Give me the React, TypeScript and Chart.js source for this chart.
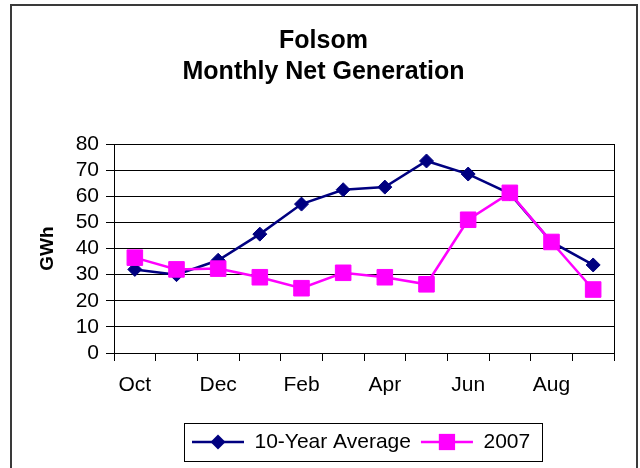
import React, { useEffect, useRef } from "react";
import { Chart, registerables } from "chart.js";

Chart.register(...registerables);

const months = ["Oct", "Nov", "Dec", "Jan", "Feb", "Mar", "Apr", "May", "Jun", "Jul", "Aug", "Sep"];
const tenYearAverage = [32, 30, 35.5, 45.5, 57, 62.5, 63.5, 73.5, 68.5, 61, 42.5, 33.7];
const year2007 = [36.5, 32, 32.3, 29, 24.8, 30.7, 29, 26.3, 51, 61.3, 42.5, 24.3];
const seriesNames = ["10-Year Average", "2007"];
const seriesColors = ["#000080", "#FF00FF"];
const titleLines = ["Folsom", "Monthly Net Generation"];
const yAxisTitle = "GWh";
const yMin = 0;
const yMax = 80;
const yStep = 10;

const FONT = "'Liberation Sans', Arial, sans-serif";

function drawMarker(ctx: CanvasRenderingContext2D, style: string, x: number, y: number, r: number, color: string) {
  ctx.save();
  ctx.fillStyle = color;
  ctx.beginPath();
  if (style === "rectRot") {
    ctx.moveTo(x - r, y);
    ctx.lineTo(x, y - r);
    ctx.lineTo(x + r, y);
    ctx.lineTo(x, y + r);
    ctx.closePath();
  } else {
    const s = r * Math.SQRT1_2;
    ctx.rect(x - s, y - s, 2 * s, 2 * s);
  }
  ctx.fill();
  ctx.restore();
}

const framePlugin = {
  id: "framePlugin",
  afterLayout(chart: any) {
    const lg = chart.legend;
    if (lg) {
      const h = lg.height;
      lg.left = 182;
      lg.top = 421.5;
      lg.bottom = lg.top + h;
      lg.right = 637;
    }
  },
  afterDraw(chart: any) {
    const ctx: CanvasRenderingContext2D = chart.ctx;
    ctx.save();
    // outer frame
    ctx.strokeStyle = "#3a3a3a";
    ctx.lineWidth = 2;
    ctx.beginPath();
    ctx.moveTo(11, 468);
    ctx.lineTo(11, 5);
    ctx.lineTo(637, 5);
    ctx.lineTo(637, 468);
    ctx.stroke();

    // legend symbols + box
    const lg = chart.legend;
    if (lg && lg.legendHitBoxes && lg.legendHitBoxes.length) {
      const boxes = lg.legendHitBoxes;
      const bw = lg.options.labels.boxWidth;
      const styles = ["rectRot", "rect"];
      const radii = [7.5, 11.5];
      boxes.forEach((hb: any, i: number) => {
        const cy = hb.top + hb.height / 2;
        ctx.strokeStyle = seriesColors[i];
        ctx.lineWidth = 2.5;
        ctx.beginPath();
        ctx.moveTo(hb.left, cy);
        ctx.lineTo(hb.left + bw, cy);
        ctx.stroke();
        drawMarker(ctx, styles[i], hb.left + bw / 2, cy, radii[i], seriesColors[i]);
      });
      const first = boxes[0];
      const last = boxes[boxes.length - 1];
      const cy = first.top + first.height / 2;
      const x0 = Math.round(first.left - 8) + 0.5;
      const x1 = Math.round(last.left + last.width + 12) + 0.5;
      const y0 = Math.round(cy - 19) + 0.5;
      const y1 = Math.round(cy + 19) + 0.5;
      ctx.strokeStyle = "#000";
      ctx.lineWidth = 1;
      ctx.strokeRect(x0, y0, x1 - x0, y1 - y0);
    }
    ctx.restore();
  },
};

export default function App() {
  const canvasRef = useRef<HTMLCanvasElement | null>(null);

  useEffect(() => {
    document.body.style.margin = "0";
    const canvas = canvasRef.current;
    if (!canvas) return;
    const chart = new Chart(canvas, {
      type: "line",
      data: {
        labels: months,
        datasets: [
          {
            label: seriesNames[0],
            data: tenYearAverage,
            borderColor: seriesColors[0],
            backgroundColor: seriesColors[0],
            pointBackgroundColor: seriesColors[0],
            pointBorderColor: seriesColors[0],
            borderWidth: 2.5,
            pointStyle: "rectRot",
            pointRadius: 7,
            pointBorderWidth: 1,
            tension: 0,
            order: 1,
          },
          {
            label: seriesNames[1],
            data: year2007,
            borderColor: seriesColors[1],
            backgroundColor: seriesColors[1],
            pointBackgroundColor: seriesColors[1],
            pointBorderColor: seriesColors[1],
            borderWidth: 2.5,
            pointStyle: "rect",
            pointRadius: 11,
            pointBorderWidth: 1,
            tension: 0,
            order: 0,
          },
        ],
      },
      options: {
        responsive: false,
        animation: false,
        layout: { padding: { left: 10, right: 3, top: 0, bottom: 0 } },
        plugins: {
          tooltip: { enabled: false },
          title: {
            display: true,
            text: titleLines,
            color: "#000",
            font: { family: FONT, size: 25, weight: "bold", lineHeight: 1.25 },
            padding: { top: 25, bottom: 56.5 },
          },
          legend: {
            display: true,
            position: "bottom",
            align: "start",
            labels: {
              color: "#000",
              font: { family: FONT, size: 21 },
              boxWidth: 52,
              boxHeight: 16,
              padding: 10,
              generateLabels: (c: any) =>
                c.data.datasets.map((ds: any, i: number) => ({
                  text: ds.label,
                  fillStyle: "rgba(0,0,0,0)",
                  strokeStyle: "rgba(0,0,0,0)",
                  lineWidth: 0,
                  hidden: false,
                  datasetIndex: i,
                  fontColor: "#000",
                })),
            },
          },
        },
        scales: {
          x: {
            type: "category",
            offset: true,
            grid: {
              display: true,
              offset: true,
              drawOnChartArea: false,
              drawTicks: true,
              tickLength: 8,
              color: "#000",
              tickColor: "#000",
            },
            border: { display: true, color: "#000", width: 1 },
            ticks: {
              autoSkip: false,
              maxRotation: 0,
              minRotation: 0,
              padding: 12,
              color: "#000",
              font: { family: FONT, size: 21 },
              callback: function (this: any, value: any, index: number) {
                return index % 2 === 0 ? this.getLabelForValue(value) : "";
              },
            },
            afterFit: (scale: any) => {
              scale.height = 74;
            },
          },
          y: {
            type: "linear",
            position: "left",
            min: yMin,
            max: yMax,
            grid: {
              display: true,
              drawOnChartArea: true,
              drawTicks: true,
              tickLength: 8,
              color: "#000",
              tickColor: "#000",
              lineWidth: 1,
            },
            border: { display: true, color: "#000", width: 1 },
            ticks: {
              stepSize: yStep,
              autoSkip: false,
              padding: 7,
              color: "#000",
              font: { family: FONT, size: 21 },
            },
            title: {
              display: true,
              text: yAxisTitle,
              color: "#000",
              font: { family: FONT, size: 19, weight: "bold" },
              padding: { top: 26, bottom: 0 },
            },
            afterFit: (scale: any) => {
              scale.width = 104;
            },
          },
          y2: {
            type: "linear",
            position: "right",
            display: true,
            min: yMin,
            max: yMax,
            grid: { display: false, drawOnChartArea: false, drawTicks: false },
            border: { display: true, color: "#000", width: 1 },
            ticks: { display: false },
            afterFit: (scale: any) => {
              scale.width = 23;
            },
          },
        },
      },
      plugins: [framePlugin],
    } as any);
    return () => {
      chart.destroy();
    };
  }, []);

  return (
    <div style={{ width: 640, height: 468 }}>
      <canvas ref={canvasRef} width={640} height={468} style={{ display: "block" }} />
    </div>
  );
}
